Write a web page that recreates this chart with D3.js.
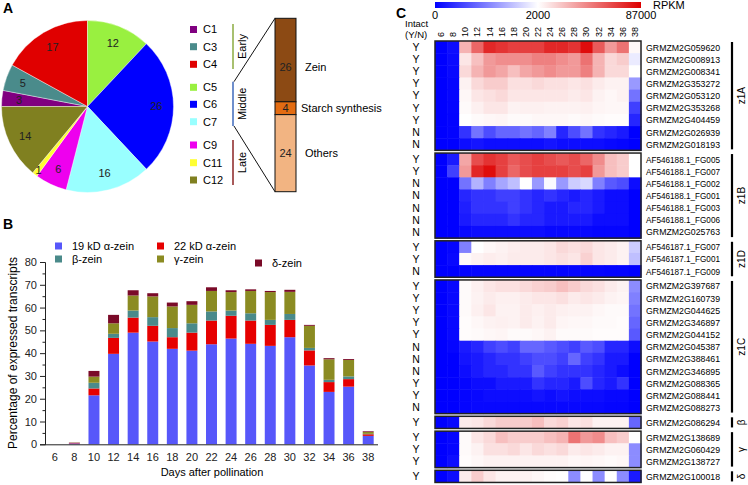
<!DOCTYPE html>
<html><head><meta charset="utf-8">
<script src="https://cdn.jsdelivr.net/npm/d3@7"></script>
<style>body{margin:0;background:#fff}svg{display:block;font-family:Arial,"Liberation Sans",Helvetica,sans-serif}</style>
</head><body><svg id="c" width="748" height="485"></svg>
<script>
// ---------- Panel A data ----------
const clusters = ["C1","C3","C4","C5","C6","C7","C9","C11","C12"];
const clusterCounts = [3,5,17,12,26,16,6,1,14];
const clusterColors = ["#800080","#4a8b8b","#e00000","#99f040","#0000ff","#99ffff","#ee00ee","#ffff33","#808020"];
const stages = ["Early","Middle","Late"];
const stageColors = ["#a8c070","#6f8fcc","#a85a5a"];
const middleCats = ["Zein","Starch synthesis","Others"];
const middleCounts = [26,4,24];
const middleColors = ["#8c4a14","#e36c12","#f2b482"];

// ---------- Panel B data ----------
const days = ["6","8","10","12","14","16","18","20","22","24","26","28","30","32","34","36","38"];
const seriesNames = ["19 kD α-zein","22 kD α-zein","β-zein","γ-zein","δ-zein"];
const seriesColors = ["#5757fa","#e60000","#4a8a8a","#8b8b22","#7a0a28"];
const alpha19 = [0,0.4,21.5,39.7,49,45.1,41.9,41.1,43.9,46.4,44.1,43.2,47,34.6,23,25.3,3.7];
const alpha22 = [0,0.2,3,7,6.6,6.9,5.1,7.9,10.4,10,10.2,9.2,7.6,6.6,4.3,3.3,0.7];
const betaZ   = [0,0,2.5,1.8,3.1,3.8,4,4.1,4,2.3,3.2,2.2,2.6,1.1,1,1.2,0.2];
const gammaZ  = [0,0.1,2.7,4.6,6.6,9.1,9.5,8.1,9,8.1,9.8,12.2,9.7,9.7,9,7.2,0.8];
const deltaZ  = [0,0.1,2.5,3.7,2.3,1.4,1.7,1.6,1.6,0.8,0.7,0.5,0.9,0.4,0.5,0.4,0.3];
const yTicks = [0,10,20,30,40,50,60,70,80];

// ---------- Panel C data ----------
const groupNames = ["z1A","z1B","z1D","z1C","β","γ","δ"];
const groupSizes = [9,7,3,11,1,3,1];
const genes = ["GRMZM2G059620","GRMZM2G008913","GRMZM2G008341","GRMZM2G353272","GRMZM2G053120","GRMZM2G353268","GRMZM2G404459","GRMZM2G026939","GRMZM2G018193",
"AF546188.1_FG005","AF546188.1_FG007","AF546188.1_FG002","AF546188.1_FG001","AF546188.1_FG003","AF546188.1_FG006","GRMZM2G025763",
"AF546187.1_FG007","AF546187.1_FG001","AF546187.1_FG009",
"GRMZM2G397687","GRMZM2G160739","GRMZM2G044625","GRMZM2G346897","GRMZM2G044152","GRMZM2G045387","GRMZM2G388461","GRMZM2G346895","GRMZM2G088365","GRMZM2G088441","GRMZM2G088273",
"GRMZM2G086294",
"GRMZM2G138689","GRMZM2G060429","GRMZM2G138727",
"GRMZM2G100018"];
const intact = ["Y","Y","Y","Y","Y","Y","Y","N","N",
"Y","Y","N","N","N","N","N",
"Y","Y","N",
"Y","Y","Y","Y","Y","N","N","N","Y","Y","N",
"Y",
"Y","Y","Y",
"Y"];
const rpkm = [
[0,100,27500,53000,74000,70000,66000,66000,66000,74000,74000,70000,83000,57000,36000,49000,4500],
[0,80,10500,23000,36000,40000,40000,40000,44500,44500,40000,36000,49000,27500,15000,19000,1840],
[0,60,14750,27500,36000,31750,23250,31750,36000,40250,36000,36000,44500,27500,14750,14750,2000],
[0,40,6250,14750,19000,19000,12200,12200,14750,12200,12200,10500,12200,8800,6250,6250,1200],
[0,40,4550,10500,12200,14750,10500,10500,10500,10500,10500,8800,10500,6250,4550,6250,900],
[0,30,3700,7100,10500,10500,6250,7100,7100,6250,6250,6250,7100,5400,4550,4550,500],
[0,20,2000,3700,4550,5400,3700,3700,4550,4550,4550,3700,4550,3700,2850,2850,300],
[0,20,400,900,600,800,800,900,800,1000,300,600,900,400,300,200,0],
[0,0,100,160,100,100,100,100,100,160,100,100,100,100,60,40,0],
[0,200,31750,61500,70000,65750,57250,61500,65750,61500,57250,61500,53000,40250,23250,19000,2000],
[0,500,36000,74250,82750,65750,53000,61500,65750,65750,65750,61500,65750,36000,23250,19000,2000],
[0,0,900,1400,1000,1300,1500,2000,1200,1950,1200,1600,1700,1000,700,600,100],
[0,0,300,400,400,500,500,400,300,400,300,200,300,200,100,100,0],
[0,0,240,400,400,400,500,400,300,200,200,300,300,200,100,100,0],
[0,0,200,300,300,300,400,300,300,200,200,200,200,100,100,100,0],
[0,0,60,100,100,100,100,100,100,60,60,60,60,40,40,40,0],
[0,40,1000,2000,4550,6250,7950,8800,8800,10500,14750,12200,14750,10500,8800,6250,1600],
[0,60,3700,6250,7950,7100,8800,8800,8800,10500,12200,10500,17300,10500,8800,6250,1500],
[0,0,20,40,40,40,40,40,40,40,40,40,40,40,20,20,0],
[0,60,3700,7100,10500,12200,12200,14750,17300,19000,23250,19000,14750,12200,8800,6250,1100],
[0,60,3700,6250,8800,7100,7100,8800,10500,10500,12200,8800,10500,8800,6250,5400,1000],
[0,60,3700,7100,10500,6250,6250,8800,7100,8800,7100,6250,6250,4550,3700,3700,900],
[0,60,2850,4550,6250,7100,6250,8800,6250,8800,5400,4550,4550,3700,3700,2850,800],
[0,60,2850,3700,4550,5400,3700,3700,4550,6250,3700,3700,3700,2850,2850,2850,700],
[0,40,200,300,500,600,500,800,800,700,600,500,700,600,300,300,100],
[0,0,160,200,300,400,400,500,600,600,500,800,500,400,200,200,0],
[0,0,100,200,300,300,400,400,700,500,400,400,400,300,200,100,0],
[0,0,40,100,100,200,200,200,400,300,300,200,600,300,200,400,0],
[0,0,40,60,100,100,100,100,160,100,160,100,100,100,60,60,0],
[0,0,40,60,60,60,60,60,60,60,60,60,60,60,40,40,0],
[0,60,8800,10500,14750,19000,19000,19000,23250,14750,17300,10500,12200,6250,6250,6250,800],
[0,40,3700,10500,14750,23250,19000,19000,19000,23250,27500,48750,36000,40250,23250,19000,2000],
[0,40,3700,6250,12200,12200,14750,10500,14750,12200,14750,8800,10500,8800,6250,6250,1100],
[0,100,2850,4550,6250,6250,6250,6250,6250,6250,6250,4550,5400,4550,3700,4550,1100],
[0,100,8800,19000,10500,6250,6250,6250,4550,2850,2400,1100,2000,1100,2000,1100,200]
];
const scaleTicks = [0,2000,87000];

// ---------- drawing ----------
const svg = d3.select("#c");
const FONT = 11;

[["A",3,13],["B",3,229],["C",396,18]].forEach(([t,x,y])=>{
  svg.append("text").attr("x",x).attr("y",y).attr("font-size",14).attr("font-weight","bold").text(t);
});

// ===== Panel A =====
(function(){
  const cx=87.5, cy=106.5, r=86;
  const g = svg.append("g").attr("transform",`translate(${cx},${cy})`);
  const pie = d3.pie().sort(null).startAngle(-Math.PI/2).endAngle(1.5*Math.PI);
  const arcs = pie(clusterCounts);
  const arc = d3.arc().innerRadius(0).outerRadius(r);
  g.selectAll("path").data(arcs).join("path").attr("d",arc)
    .attr("fill",(d,i)=>clusterColors[i]).attr("stroke","#ffffff").attr("stroke-width",0.4);
  g.selectAll("text").data(arcs).join("text")
    .attr("transform",d=>{
      const a=(d.startAngle+d.endAngle)/2; const rr = d.value<2? r*0.93 : r*0.8;
      return `translate(${Math.sin(a)*rr},${-Math.cos(a)*rr})`;})
    .attr("text-anchor","middle").attr("dy","0.36em").attr("font-size",FONT).attr("fill","#222")
    .text(d=>d.value);

  const ly = [29.5,46.7,64.3,87.3,104.3,121.7,145,162.7,180];
  const lg = svg.append("g");
  clusters.forEach((c,i)=>{
    lg.append("rect").attr("x",190).attr("y",ly[i]-3.5).attr("width",7).attr("height",7).attr("fill",clusterColors[i]);
    lg.append("text").attr("x",203).attr("y",ly[i]).attr("dy","0.36em").attr("font-size",FONT).text(c);
  });
  const stageY = [[24,69],[81.7,126],[140,185]];
  stages.forEach((s,i)=>{
    lg.append("line").attr("x1",233).attr("x2",233).attr("y1",stageY[i][0]).attr("y2",stageY[i][1])
      .attr("stroke",stageColors[i]).attr("stroke-width",2);
    const my=(stageY[i][0]+stageY[i][1])/2;
    lg.append("text").attr("transform",`translate(246,${my}) rotate(-90)`).attr("text-anchor","middle")
      .attr("font-size",FONT).text(s);
  });
  const bx=275, bw=21, top=18.3, bot=191.7;
  const total=d3.sum(middleCounts);
  const ys = d3.scaleLinear().domain([0,total]).range([top,bot]);
  let acc=0;
  middleCounts.forEach((v,i)=>{
    const y0=ys(acc), y1=ys(acc+v);
    lg.append("rect").attr("x",bx).attr("y",y0).attr("width",bw).attr("height",y1-y0)
      .attr("fill",middleColors[i]).attr("stroke","#111").attr("stroke-width",1);
    const my = i===0 ? y0+(y1-y0)*0.58 : (y0+y1)/2;
    lg.append("text").attr("x",bx+bw/2).attr("y",my).attr("dy","0.36em").attr("text-anchor","middle")
      .attr("font-size",FONT).attr("fill","#222").text(v);
    const tx = i===0?305:(i===1?301:305);
    lg.append("text").attr("x",tx).attr("y",my).attr("dy","0.36em").attr("font-size",FONT).text(middleCats[i]);
    acc+=v;
  });
  lg.append("line").attr("x1",234).attr("y1",81.7).attr("x2",bx).attr("y2",top).attr("stroke","#111").attr("stroke-width",1);
  lg.append("line").attr("x1",234).attr("y1",126).attr("x2",bx).attr("y2",bot).attr("stroke","#111").attr("stroke-width",1);
})();

// ===== Panel B =====
(function(){
  const x = d3.scaleBand().domain(days).range([45,378]).paddingInner(0.44).paddingOuter(0.22);
  const y = d3.scaleLinear().domain([0,80]).range([444.3,262]);
  const data = days.map((d,i)=>({day:d, s0:alpha19[i], s1:alpha22[i], s2:betaZ[i], s3:gammaZ[i], s4:deltaZ[i]}));
  const stack = d3.stack().keys(["s0","s1","s2","s3","s4"])(data);
  const g = svg.append("g");
  g.selectAll("g.layer").data(stack).join("g").attr("fill",(d,i)=>seriesColors[i])
    .selectAll("rect").data(d=>d).join("rect")
    .attr("x",d=>x(d.data.day)).attr("width",x.bandwidth())
    .attr("y",d=>y(d[1])).attr("height",d=>Math.max(0,y(d[0])-y(d[1])));
  const ay = g.append("g").attr("transform","translate(45,0)")
    .call(d3.axisLeft(y).tickValues(yTicks).tickSize(5).tickPadding(3));
  ay.selectAll("text").attr("font-size",FONT).attr("font-family","Arial, Liberation Sans").attr("fill","#222");
  const am = g.append("g").attr("transform","translate(45,0)")
    .call(d3.axisLeft(y).tickValues(d3.range(5,80,10)).tickSize(2.5).tickFormat(""));
  am.select(".domain").remove();
  const ax = g.append("g").attr("transform","translate(0,444.3)")
    .call(d3.axisBottom(x).tickSize(0).tickPadding(9));
  ax.select(".domain").attr("d","M45,0.5H378");
  ax.selectAll("text").attr("font-size",FONT).attr("font-family","Arial, Liberation Sans").attr("fill","#222");
  g.selectAll(".domain, .tick line").attr("stroke","#222");
  g.append("text").attr("x",212).attr("y",476).attr("text-anchor","middle").attr("font-size",FONT).text("Days after pollination");
  g.append("text").attr("transform","translate(17,353) rotate(-90)").attr("text-anchor","middle").attr("font-size",12).text("Percentage of expressed transcripts");
  const lpos = [[55,246],[157,246],[55,259],[157,259],[255,263]];
  seriesNames.forEach((n,i)=>{
    g.append("rect").attr("x",lpos[i][0]).attr("y",lpos[i][1]-3.5).attr("width",7).attr("height",7).attr("fill",seriesColors[i]);
    g.append("text").attr("x",lpos[i][0]+17).attr("y",lpos[i][1]).attr("dy","0.36em").attr("font-size",FONT).text(n);
  });
})();

// ===== Panel C =====
(function(){
  const x0=435, x1=641;
  const color = d3.scaleLinear().domain(scaleTicks).range(["#0000ff","#ffffff","#dd0000"]);
  const defs = svg.append("defs");
  const grad = defs.append("linearGradient").attr("id","cb");
  [[0,"#0000ff"],[0.5,"#ffffff"],[1,"#dd0000"]].forEach(([o,c])=>grad.append("stop").attr("offset",o).attr("stop-color",c));
  svg.append("rect").attr("x",x0).attr("y",2).attr("width",x1-x0).attr("height",6).attr("fill","url(#cb)");
  const cbx = d3.scaleLinear().domain(scaleTicks).range([x0,(x0+x1)/2,x1]);
  scaleTicks.forEach(t=>svg.append("text").attr("x",cbx(t)).attr("y",19).attr("text-anchor","middle").attr("font-size",FONT).text(t));
  svg.append("text").attr("x",653).attr("y",9).attr("font-size",FONT).text("RPKM");
  svg.append("text").attr("x",405).attr("y",27).attr("font-size",9.5).text("Intact");
  svg.append("text").attr("x",405).attr("y",37.5).attr("font-size",9.5).text("(Y/N)");

  const xb = d3.scaleBand().domain(days).range([x0,x1]);
  days.forEach(d=>svg.append("text").attr("transform",`translate(${xb(d)+xb.bandwidth()/2+3},37) rotate(-90)`)
     .attr("font-size",9).text(d));

  const rowH=12.15, gap=2.7, top=41;
  const rowY=[]; const groupBox=[];
  let y=top;
  groupSizes.forEach((n)=>{
    const gy=y;
    for(let k=0;k<n;k++){ rowY.push(y); y+=rowH; }
    groupBox.push([gy,y]);
    y+=gap;
  });
  const g = svg.append("g");
  rpkm.forEach((row,ri)=>{
    g.selectAll(null).data(row).join("rect")
      .attr("x",(v,ci)=>xb(days[ci])).attr("y",rowY[ri]).attr("width",xb.bandwidth()+0.5).attr("height",rowH+0.5)
      .attr("fill",v=>color(v));
    g.append("text").attr("x",416).attr("y",rowY[ri]+rowH/2).attr("dy","0.36em").attr("text-anchor","middle").attr("font-size",10.5).text(intact[ri]);
    const t = g.append("text").attr("x",646).attr("y",rowY[ri]+rowH/2).attr("dy","0.36em").attr("font-size",9.6).text(genes[ri]);
    const len = t.node().getComputedTextLength();
    if(len>74) t.attr("textLength",74).attr("lengthAdjust","spacingAndGlyphs");
  });
  groupBox.forEach(([a,b],gi)=>{
    g.append("rect").attr("x",x0).attr("y",a).attr("width",x1-x0).attr("height",b-a)
      .attr("fill","none").attr("stroke","#222").attr("stroke-width",1.5);
    g.append("line").attr("x1",732).attr("x2",732).attr("y1",a+1).attr("y2",b-1).attr("stroke","#000").attr("stroke-width",2.2);
    g.append("text").attr("transform",`translate(745,${(a+b)/2}) rotate(-90)`).attr("text-anchor","middle")
      .attr("font-size",10).text(groupNames[gi]);
  });
})();
</script></body></html>
